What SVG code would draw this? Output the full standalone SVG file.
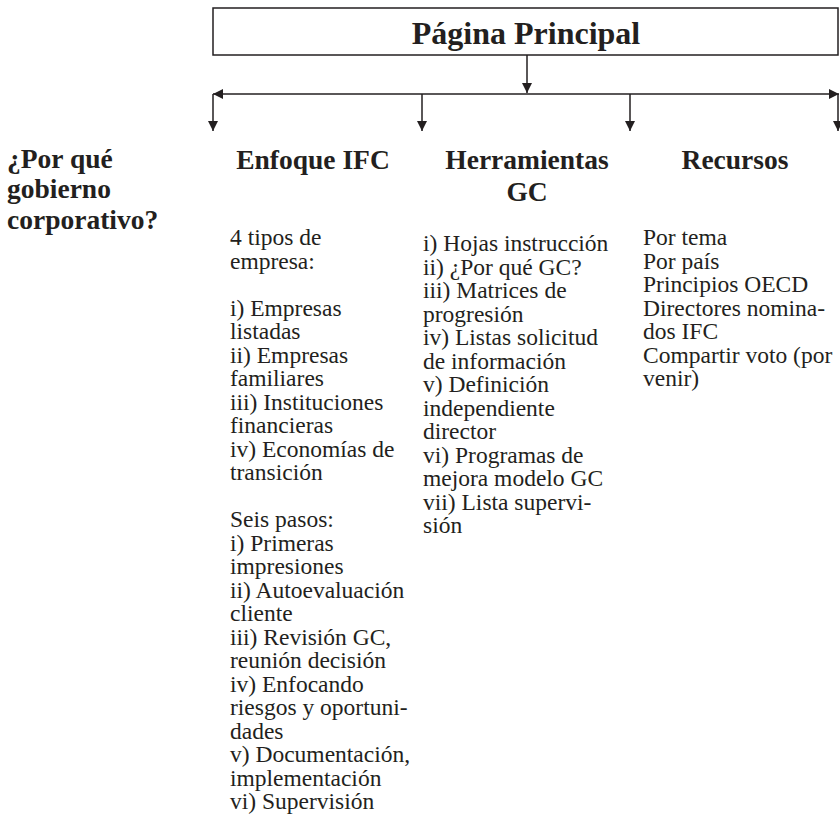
<svg xmlns="http://www.w3.org/2000/svg" width="840" height="824" viewBox="0 0 840 824">
<style>
.h{font-weight:bold;font-size:27.5px}
.b{font-size:23.5px}
.ln{stroke:#231f20;stroke-width:1.5;fill:none}
</style>
<defs>
<marker id="ah" viewBox="0 0 10 10" refX="10" refY="5" markerWidth="10" markerHeight="10" markerUnits="userSpaceOnUse" orient="auto"><path d="M0,0L10,5L0,10z" fill="#231f20"/></marker>
</defs>
<rect width="840" height="824" fill="#fff"/>
<g font-family="Liberation Serif, Times New Roman, serif" fill="#231f20">
<g id="main">
<rect x="213" y="8" width="625" height="47" fill="#fff" stroke="#231f20" stroke-width="1.5"/>
<text x="526" y="44" text-anchor="middle" font-weight="bold" font-size="32">Página Principal</text>
</g>
<g id="connectors">
<line class="ln" x1="527" y1="55" x2="527" y2="93" marker-end="url(#ah)"/>
<line class="ln" x1="526" y1="94" x2="213" y2="94" marker-end="url(#ah)"/>
<line class="ln" x1="526" y1="94" x2="839" y2="94" marker-end="url(#ah)"/>
<line class="ln" x1="213" y1="94" x2="213" y2="131" marker-end="url(#ah)"/>
<line class="ln" x1="422" y1="94" x2="422" y2="131" marker-end="url(#ah)"/>
<line class="ln" x1="630" y1="94" x2="630" y2="131" marker-end="url(#ah)"/>
<line class="ln" x1="838" y1="94" x2="838" y2="131" marker-end="url(#ah)"/>
</g>
<g id="porque">
<text class="h" x="7" y="168">¿Por qué</text>
<text class="h" x="7" y="198">gobierno</text>
<text class="h" x="7" y="229">corporativo?</text>
</g>
<g id="enfoque">
<text class="h" x="313" y="169" text-anchor="middle">Enfoque IFC</text>
<text class="b">
<tspan x="230" y="245">4 tipos de</tspan>
<tspan x="230" y="268.5">empresa:</tspan>
<tspan x="230" y="315.5">i) Empresas</tspan>
<tspan x="230" y="339">listadas</tspan>
<tspan x="230" y="362.5">ii) Empresas</tspan>
<tspan x="230" y="386">familiares</tspan>
<tspan x="230" y="409.5">iii) Instituciones</tspan>
<tspan x="230" y="433">financieras</tspan>
<tspan x="230" y="456.5">iv) Economías de</tspan>
<tspan x="230" y="480">transición</tspan>
<tspan x="230" y="527">Seis pasos:</tspan>
<tspan x="230" y="550.5">i) Primeras</tspan>
<tspan x="230" y="574">impresiones</tspan>
<tspan x="230" y="597.5">ii) Autoevaluación</tspan>
<tspan x="230" y="621">cliente</tspan>
<tspan x="230" y="644.5">iii) Revisión GC,</tspan>
<tspan x="230" y="668">reunión decisión</tspan>
<tspan x="230" y="691.5">iv) Enfocando</tspan>
<tspan x="230" y="715">riesgos y oportuni-</tspan>
<tspan x="230" y="738.5">dades</tspan>
<tspan x="230" y="762">v) Documentación,</tspan>
<tspan x="230" y="785.5">implementación</tspan>
<tspan x="230" y="809">vi) Supervisión</tspan>
</text>
</g>
<g id="herramientas">
<text class="h" x="527" y="169" text-anchor="middle">Herramientas</text>
<text class="h" x="527" y="201" text-anchor="middle">GC</text>
<text class="b">
<tspan x="423" y="251">i) Hojas instrucción</tspan>
<tspan x="423" y="274.5">ii) ¿Por qué GC?</tspan>
<tspan x="423" y="298">iii) Matrices de</tspan>
<tspan x="423" y="321.5">progresión</tspan>
<tspan x="423" y="345">iv) Listas solicitud</tspan>
<tspan x="423" y="368.5">de información</tspan>
<tspan x="423" y="392">v) Definición</tspan>
<tspan x="423" y="415.5">independiente</tspan>
<tspan x="423" y="439">director</tspan>
<tspan x="423" y="462.5">vi) Programas de</tspan>
<tspan x="423" y="486">mejora modelo GC</tspan>
<tspan x="423" y="509.5">vii) Lista supervi-</tspan>
<tspan x="423" y="533">sión</tspan>
</text>
</g>
<g id="recursos">
<text class="h" x="735" y="169" text-anchor="middle">Recursos</text>
<text class="b">
<tspan x="643" y="245">Por tema</tspan>
<tspan x="643" y="268.5">Por país</tspan>
<tspan x="643" y="292">Principios OECD</tspan>
<tspan x="643" y="315.5">Directores nomina-</tspan>
<tspan x="643" y="339">dos IFC</tspan>
<tspan x="643" y="362.5">Compartir voto (por</tspan>
<tspan x="643" y="386">venir)</tspan>
</text>
</g>
</g>
</svg>
